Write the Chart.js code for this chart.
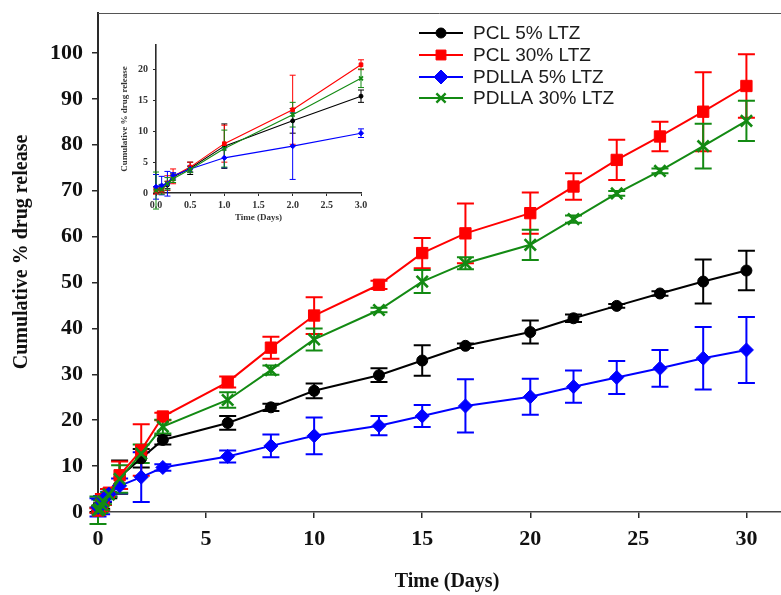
<!DOCTYPE html>
<html><head><meta charset="utf-8">
<script src="https://cdn.jsdelivr.net/npm/chart.js@4.4.1/dist/chart.umd.min.js"></script>
<style>
html,body{margin:0;padding:0;background:#fff;}
#wrap{position:relative;width:781px;height:595px;overflow:hidden;background:#fff;}
#main{position:absolute;left:0;top:0;}
#inset{position:absolute;left:100px;top:30px;}
</style></head><body>
<div id="wrap"><canvas id="main" width="781" height="595"></canvas><canvas id="inset" width="280" height="200"></canvas></div>
<script>
// ---------- data ----------
const days = [0, 0.083, 0.167, 0.25, 0.5, 1, 2, 3, 6, 8, 10, 13, 15, 17, 20, 22, 24, 26, 28, 30];
const seriesNames = ['PCL 5% LTZ', 'PCL 30% LTZ', 'PDLLA 5% LTZ', 'PDLLA 30% LTZ'];
const pcl5     = [0.5, 0.8, 1.3, 2.6, 4.0, 7.6, 11.7, 15.7, 19.4, 22.8, 26.4, 29.8, 33.0, 36.2, 39.2, 42.2, 44.9, 47.6, 50.2, 52.6];
const pcl5Err  = [0.5, 0.5, 0.6, 0.5, 1.0, 3.6, 2.0, 1.0, 1.5, 0.8, 1.6, 1.5, 3.3, 0.5, 2.5, 0.8, 0.4, 0.5, 4.8, 4.3];
const pcl30    = [0.3, 0.5, 1.6, 2.7, 4.2, 8.0, 13.5, 20.8, 28.3, 35.8, 42.8, 49.5, 56.4, 60.7, 65.1, 70.9, 76.7, 81.8, 87.2, 92.8];
const pcl30Err = [0.5, 0.5, 1.2, 1.2, 0.8, 3.0, 5.6, 0.8, 1.2, 2.4, 4.0, 0.9, 3.3, 6.5, 4.5, 2.9, 4.4, 3.2, 8.6, 6.9];
const pdlla5   = [1.0, 1.2, 1.5, 2.8, 3.9, 5.7, 7.6, 9.7, 12.1, 14.4, 16.6, 18.8, 20.9, 23.1, 25.1, 27.3, 29.3, 31.3, 33.5, 35.3];
const pdlla5Err= [2.0, 1.5, 2.0, 0.5, 0.5, 1.6, 5.4, 0.7, 1.3, 2.5, 4.0, 2.1, 2.4, 5.8, 3.9, 3.5, 3.6, 4.0, 6.8, 7.2];
const pdlla30  = [0.4, 0.6, 1.5, 2.3, 3.8, 7.2, 12.7, 18.6, 24.4, 30.9, 37.6, 44.0, 50.2, 54.2, 58.2, 63.8, 69.4, 74.3, 79.7, 85.2];
const pdlla30Err=[3.0, 0.8, 1.0, 0.6, 0.5, 3.0, 2.0, 1.5, 1.7, 1.0, 2.4, 0.5, 2.5, 1.3, 3.3, 0.8, 0.5, 0.5, 4.9, 4.4];
const insetDays = [0, 0.083, 0.167, 0.25, 0.5, 1, 2, 3];
const xTickValues = [0, 5, 10, 15, 20, 25, 30];
const yTickValues = [0, 10, 20, 30, 40, 50, 60, 70, 80, 90, 100];
const insetXTicks = [0, 0.5, 1, 1.5, 2, 2.5, 3];
const insetYTicks = [0, 5, 10, 15, 20];
const yTitle = 'Cumulative % drug release';
const xTitle = 'Time (Days)';
const insetYTitle = 'Cumulative % drug release';
const insetXTitle = 'Time (Days)';

// ---------- styles ----------
const seriesValues = [pcl5, pcl30, pdlla5, pdlla30];
const seriesErrors = [pcl5Err, pcl30Err, pdlla5Err, pdlla30Err];
const colors = ['#000000', '#ff0000', '#0000ff', '#138a13'];
const styles = ['circle', 'rect', 'rectRot', 'crossRot'];
const mainRadius = [5.5, 8, 7, 8];
const insetRadius = [2, 2.6, 2.6, 2.8];
const SERIF = '"Liberation Serif", "Times New Roman", serif';
const SANS = '"Liberation Sans", Arial, sans-serif';
const AXIS = '#2a2a2a';

function buildDatasets(xs, radii, lw, n) {
  return seriesNames.map((name, i) => ({
    label: name,
    data: xs.map((d, j) => ({x: d, y: seriesValues[i][j]})),
    errorBars: seriesErrors[i].slice(0, n),
    borderColor: colors[i],
    backgroundColor: colors[i],
    pointBackgroundColor: colors[i],
    pointBorderColor: colors[i],
    pointStyle: styles[i],
    pointRadius: radii[i],
    pointBorderWidth: styles[i] === 'crossRot' ? lw + 0.6 : 1,
    borderWidth: lw,
    tension: 0,
    clip: false,
    order: i === 3 ? 0 : (4 - i)
  }));
}

const errorBarPlugin = {
  id: 'errorBars',
  beforeDatasetsDraw(chart, args, opts) {
    const {ctx, scales: {x, y}} = chart;
    chart.data.datasets.forEach((ds) => {
      ctx.save();
      ctx.strokeStyle = ds.borderColor;
      ctx.lineWidth = opts.lineWidth;
      ds.data.forEach((pt, j) => {
        const e = ds.errorBars[j];
        if (!e) return;
        const px = x.getPixelForValue(pt.x);
        const pTop = y.getPixelForValue(pt.y + e);
        const pBot = y.getPixelForValue(pt.y - e);
        const c = opts.cap;
        ctx.beginPath();
        ctx.moveTo(px, pTop); ctx.lineTo(px, pBot);
        ctx.moveTo(px - c, pTop); ctx.lineTo(px + c, pTop);
        ctx.moveTo(px - c, pBot); ctx.lineTo(px + c, pBot);
        ctx.stroke();
      });
      ctx.restore();
    });
  }
};

const mainDecor = {
  id: 'mainDecor',
  afterDraw(chart) {
    const {ctx, chartArea} = chart;
    ctx.save();
    // top frame line
    ctx.strokeStyle = '#555';
    ctx.lineWidth = 1;
    ctx.beginPath();
    ctx.moveTo(chartArea.left, chartArea.top + 0.5);
    ctx.lineTo(chartArea.right, chartArea.top + 0.5);
    ctx.stroke();
    // axis titles
    ctx.fillStyle = '#111';
    ctx.font = 'bold 20px ' + SERIF;
    ctx.textAlign = 'center';
    ctx.textBaseline = 'middle';
    ctx.fillText(xTitle, 447, 582);
    ctx.translate(22, 252);
    ctx.rotate(-Math.PI / 2);
    ctx.fillText(yTitle, 0, 0);
    ctx.restore();
    // legend
    ctx.save();
    const rows = [33, 55, 77, 98];
    const legR = [5, 7, 7, 6.5];
    chart.data.datasets.forEach((ds, i) => {
      const yy = rows[i];
      ctx.strokeStyle = ds.borderColor;
      ctx.fillStyle = ds.borderColor;
      ctx.lineWidth = 2;
      ctx.beginPath();
      ctx.moveTo(419, yy); ctx.lineTo(463, yy);
      ctx.stroke();
      ctx.lineWidth = styles[i] === 'crossRot' ? 2.4 : 1;
      Chart.helpers.drawPoint(ctx, {pointStyle: styles[i], radius: legR[i], rotation: 0, borderWidth: ctx.lineWidth}, 441, yy);
      ctx.fillStyle = '#1c1c1c';
      ctx.font = '19px ' + SANS;
      ctx.textAlign = 'left';
      ctx.textBaseline = 'middle';
      ctx.fillText(ds.label, 473, yy + 1);
    });
    ctx.restore();
  }
};

new Chart(document.getElementById('main'), {
  type: 'line',
  data: {datasets: buildDatasets(days, mainRadius, 2, days.length)},
  options: {
    responsive: false, animation: false, devicePixelRatio: 1,
    layout: {autoPadding: false, padding: {left: 0, right: 0, top: 13, bottom: 0}},
    plugins: {legend: {display: false}, tooltip: {enabled: false}, errorBars: {lineWidth: 2, cap: 8.5}},
    scales: {
      x: {
        type: 'linear', min: 0, max: 31.6,
        afterBuildTicks: s => { s.ticks = xTickValues.map(v => ({value: v})); },
        afterFit: s => { s.height = 83; s.paddingLeft = 0; s.paddingRight = 0; },
        ticks: {font: {family: SERIF, size: 22, weight: 'bold'}, color: '#111', padding: 8, maxRotation: 0, autoSkip: false},
        grid: {display: true, drawOnChartArea: false, drawTicks: true, tickLength: 6, color: AXIS, lineWidth: 1.5},
        border: {display: true, color: '#444', width: 1.5}
      },
      y: {
        type: 'linear', min: 0, max: 108.7,
        afterBuildTicks: s => { s.ticks = yTickValues.map(v => ({value: v})); },
        afterFit: s => { s.width = 98; s.paddingTop = 0; s.paddingBottom = 0; },
        ticks: {font: {family: SERIF, size: 22, weight: 'bold'}, color: '#111', padding: 9, autoSkip: false},
        grid: {display: true, drawOnChartArea: false, drawTicks: true, tickLength: 6, color: AXIS, lineWidth: 1.5},
        border: {display: true, color: AXIS, width: 2}
      }
    }
  },
  plugins: [errorBarPlugin, mainDecor]
});

new Chart(document.getElementById('inset'), {
  type: 'line',
  data: {datasets: buildDatasets(insetDays, insetRadius, 1.1, insetDays.length)},
  options: {
    responsive: false, animation: false, devicePixelRatio: 1,
    layout: {autoPadding: false, padding: {left: 0, right: 19, top: 15, bottom: 0}},
    plugins: {legend: {display: false}, tooltip: {enabled: false}, errorBars: {lineWidth: 1, cap: 3}},
    scales: {
      x: {
        type: 'linear', min: 0, max: 3,
        afterBuildTicks: s => { s.ticks = insetXTicks.map(v => ({value: v})); },
        afterFit: s => { s.height = 37; s.paddingLeft = 0; s.paddingRight = 0; },
        ticks: {font: {family: SERIF, size: 10, weight: 'bold'}, color: '#333', padding: 3, maxRotation: 0, autoSkip: false,
                callback: v => Number(v).toFixed(1)},
        grid: {display: true, drawOnChartArea: false, drawTicks: true, tickLength: 3, color: AXIS, lineWidth: 1},
        border: {display: true, color: AXIS, width: 1.6},
        title: {display: true, text: insetXTitle, font: {family: SERIF, size: 9, weight: 'bold'}, color: '#333', padding: {top: 0, bottom: 6.6}}
      },
      y: {
        type: 'linear', min: 0, max: 24,
        afterBuildTicks: s => { s.ticks = insetYTicks.map(v => ({value: v})); },
        afterFit: s => { s.width = 56; s.paddingTop = 0; s.paddingBottom = 0; },
        ticks: {font: {family: SERIF, size: 10, weight: 'bold'}, color: '#333', padding: 5, autoSkip: false},
        grid: {display: true, drawOnChartArea: false, drawTicks: true, tickLength: 3, color: AXIS, lineWidth: 1},
        border: {display: true, color: AXIS, width: 1.6},
        title: {display: true, text: insetYTitle, font: {family: SERIF, size: 9, weight: 'bold'}, color: '#333', padding: {top: 19.6, bottom: 0}}
      }
    }
  },
  plugins: [errorBarPlugin]
});
</script>
</body></html>
